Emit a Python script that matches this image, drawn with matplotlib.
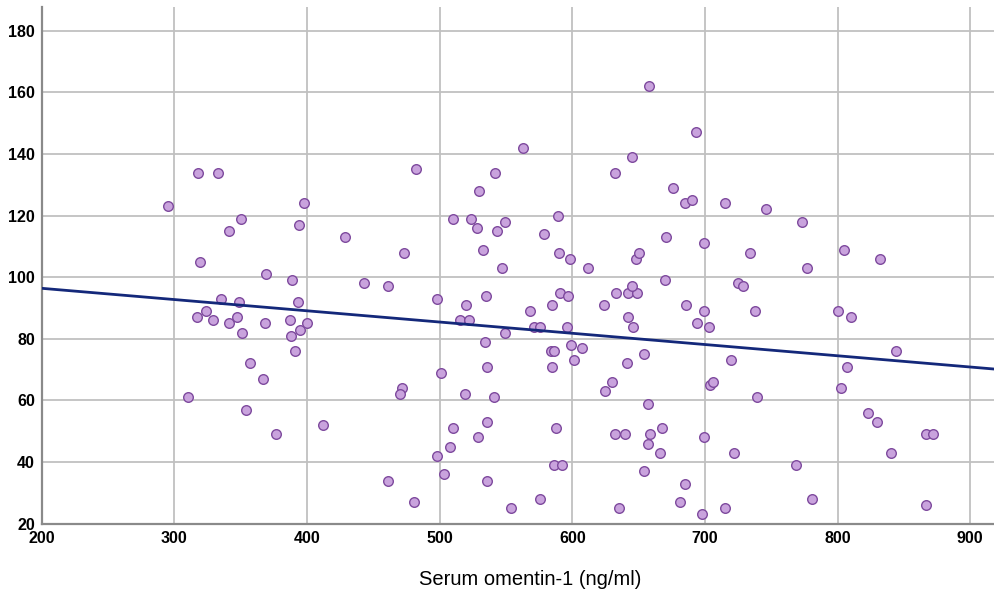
import numpy as np
import matplotlib
matplotlib.use("Agg")
from matplotlib import pyplot as plt

# serum omentin-1 (ng/ml) vs outcome
omentin = [295, 318, 333, 341, 350, 319, 398, 394, 369, 389, 429,
           317, 324, 329, 335, 341, 347, 349, 351, 357, 368, 367, 310, 354, 377,
           393, 387, 388, 395, 400, 391, 412,
           443, 461, 473, 482, 498, 510, 524, 528, 530, 533, 535, 542, 543, 547, 549,
           563, 579, 589, 590, 598, 612, 591, 597, 633, 642, 649, 645, 670, 671,
           632, 645, 658, 648, 650,
           676, 685, 690, 693, 699, 715, 746, 773, 734, 805, 832, 777, 725, 729,
           520, 568, 585, 624, 515, 522, 549, 571, 576, 596, 642, 646,
           534, 584, 586, 599, 607, 601, 654, 536, 585, 641, 501, 472, 470, 519, 541,
           630, 625, 657, 510, 536, 588, 529, 508, 498, 632, 640, 659, 657, 668, 666,
           586, 592, 654, 503, 461, 536, 481, 576, 554, 635,
           686, 699, 738, 800, 810, 694, 703, 844, 720, 807, 704, 706, 803, 739,
           823, 830, 699, 867, 872, 722, 840, 769, 685, 781, 681, 715, 867, 698]
outcome = [123, 134, 134, 115, 119, 105, 124, 117, 101, 99, 113,
           87, 89, 86, 93, 85, 87, 92, 82, 72, 85, 67, 61, 57, 49,
           92, 86, 81, 83, 85, 76, 52,
           98, 97, 108, 135, 93, 119, 119, 116, 128, 109, 94, 134, 115, 103, 118,
           142, 114, 120, 108, 106, 103, 95, 94, 95, 95, 95, 97, 99, 113,
           134, 139, 162, 106, 108,
           129, 124, 125, 147, 111, 124, 122, 118, 108, 109, 106, 103, 98, 97,
           91, 89, 91, 91, 86, 86, 82, 84, 84, 84, 87, 84,
           79, 76, 76, 78, 77, 73, 75, 71, 71, 72, 69, 64, 62, 62, 61,
           66, 63, 59, 51, 53, 51, 48, 45, 42, 49, 49, 49, 46, 51, 43,
           39, 39, 37, 36, 34, 34, 27, 28, 25, 25,
           91, 89, 89, 89, 87, 85, 84, 76, 73, 71, 65, 66, 64, 61,
           56, 53, 48, 49, 49, 43, 43, 39, 33, 28, 27, 25, 26, 23]

# fit line as drawn in the original (intercept at x=0, slope)
fit_intercept = 103.7
fit_slope = -0.0365

fig = plt.figure(figsize=(9.94, 5.93), dpi=100)
ax = fig.add_axes([0.042, 0.117, 0.958, 0.871])

ax.scatter(omentin, outcome, s=48, facecolor="#C9A3DD", edgecolor="#7E4A9E",
           linewidth=1.0, zorder=3)

xs = np.array([200, 920])
ax.plot(xs, fit_intercept + fit_slope * xs, color="#14287A", linewidth=2.0, zorder=4)

ax.set_xlim(200, 918)
ax.set_ylim(20, 187.7)
ax.set_xticks(np.arange(200, 901, 100))
ax.set_yticks(np.arange(20, 181, 20))
ax.grid(True, color="#C0C0C0", linewidth=1.3, zorder=0)
ax.set_axisbelow(True)

for s in ["top", "right"]:
    ax.spines[s].set_visible(False)
for s in ["left", "bottom"]:
    ax.spines[s].set_color("#8A8A8A")
    ax.spines[s].set_linewidth(1.6)

ax.tick_params(length=0, pad=5, labelsize=11.5)
for lab in ax.get_xticklabels() + ax.get_yticklabels():
    lab.set_fontweight("bold")
    lab.set_fontfamily("Liberation Sans")

ax.set_xlabel("Serum omentin-1 (ng/ml)", fontsize=14.5, fontfamily="Liberation Sans")
ax.xaxis.set_label_coords(0.513, -0.09)

fig.savefig("out.png", dpi=100)
